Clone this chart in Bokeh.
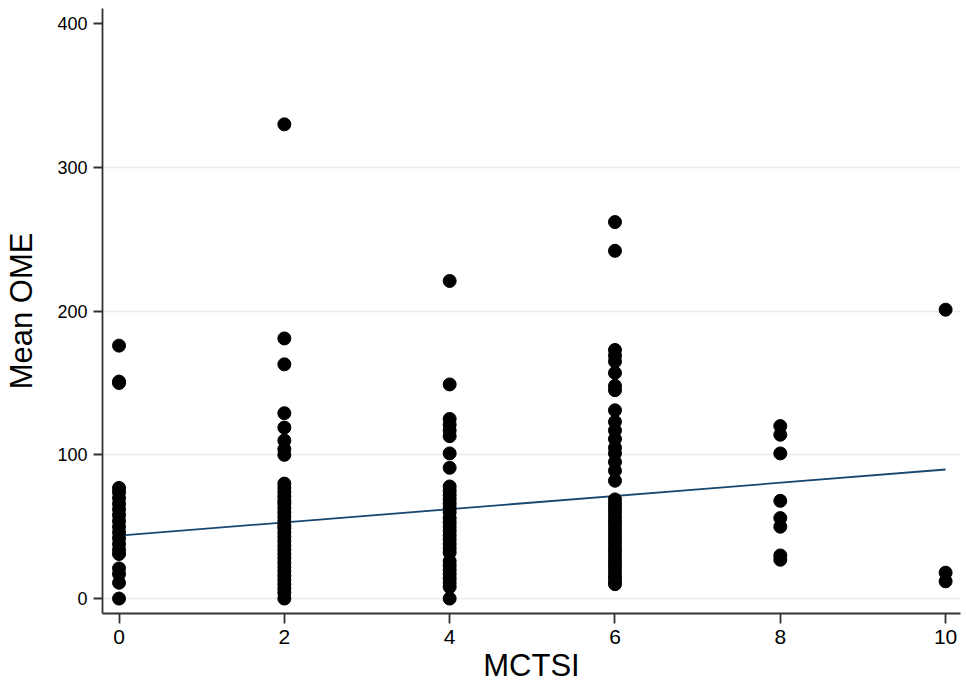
from bokeh.plotting import figure
from bokeh.models import Range1d, FixedTicker, ColumnDataSource
from bokeh.embed import file_html
from bokeh.resources import INLINE

# Data (MCTSI score vs mean OME)
ome_mctsi0 = [176, 151, 150, 77, 74, 70, 66, 62, 58, 54, 50, 46, 42, 38, 34, 31, 21, 17, 11, 0]
ome_mctsi2 = [330, 181, 163, 129, 119, 110, 104, 100, 80, 77, 74, 71, 68, 66, 63, 60, 57, 54,
              51, 49, 46, 43, 40, 37, 34, 31, 28, 25, 22, 19, 16, 13, 10, 7, 4, 0]
ome_mctsi4 = [221, 149, 125, 121, 117, 113, 101, 91, 78, 75, 72, 69, 66, 63, 60, 56, 53, 50,
              47, 44, 41, 38, 35, 32, 26, 23, 20, 17, 14, 11, 8, 0]
ome_mctsi6 = [262, 242, 173, 169, 165, 157, 148, 145, 131, 123, 117, 111, 105, 101, 95, 89, 82,
              69, 66, 63, 60, 57, 54, 51, 48, 45, 42, 39, 36, 33, 30, 27, 24, 21, 18, 15, 12, 10]
ome_mctsi8 = [120, 114, 101, 68, 56, 50, 30, 27]
ome_mctsi10 = [201, 18, 12]

mctsi_levels = [0, 2, 4, 6, 8, 10]
ome_groups = [ome_mctsi0, ome_mctsi2, ome_mctsi4, ome_mctsi6, ome_mctsi8, ome_mctsi10]

# Fitted line
fit_x = [0, 10]
fit_y = [43.8, 89.8]

x_ticks = [0, 2, 4, 6, 8, 10]
y_ticks = [0, 100, 200, 300, 400]

xs, ys = [], []
for lvl, grp in zip(mctsi_levels, ome_groups):
    xs += [lvl] * len(grp)
    ys += grp
src = ColumnDataSource(dict(x=xs, y=ys))

p = figure(width=966, height=690, output_backend="svg", toolbar_location=None,
           x_range=Range1d(-0.2, 10.18), y_range=Range1d(-10.4, 410.6),
           min_border_left=102, min_border_right=6, min_border_top=8, min_border_bottom=77)
p.outline_line_color = None
p.background_fill_color = "white"
p.border_fill_color = "white"

p.line(fit_x, fit_y, line_color="#1a476f", line_width=1.8)
p.scatter("x", "y", source=src, size=13, fill_color="black", line_color="black")

FONT = "Liberation Sans"
for ax in (p.xaxis[0], p.yaxis[0]):
    ax.axis_line_color = "#333333"
    ax.axis_line_width = 1.8
    ax.major_tick_line_color = "#333333"
    ax.major_tick_line_width = 1.8
    ax.minor_tick_line_color = None
    ax.major_tick_in = 0
    ax.major_label_text_font = FONT
    ax.major_label_text_color = "black"
    ax.axis_label_text_font = FONT
    ax.axis_label_text_font_size = "31px"
    ax.axis_label_text_font_style = "normal"
    ax.axis_label_text_color = "black"

p.xaxis.major_label_text_font_size = "21px"
p.yaxis.major_label_text_font_size = "18px"
p.xaxis.ticker = FixedTicker(ticks=x_ticks)
p.yaxis.ticker = FixedTicker(ticks=y_ticks)
p.xaxis.axis_label = "MCTSI"
p.yaxis.axis_label = "Mean OME"
p.xaxis.major_tick_out = 10
p.yaxis.major_tick_out = 9
p.xaxis.major_label_standoff = 6
p.yaxis.major_label_standoff = 6
p.xaxis.axis_label_standoff = 1
p.yaxis.axis_label_standoff = 15
p.yaxis.major_label_orientation = "horizontal"

p.xgrid.grid_line_color = None
p.ygrid.ticker = FixedTicker(ticks=[0, 100, 200, 300])
p.ygrid.grid_line_color = "#e8ecee"
p.ygrid.grid_line_width = 1.5

open("out.html", "w").write(file_html(p, INLINE))
